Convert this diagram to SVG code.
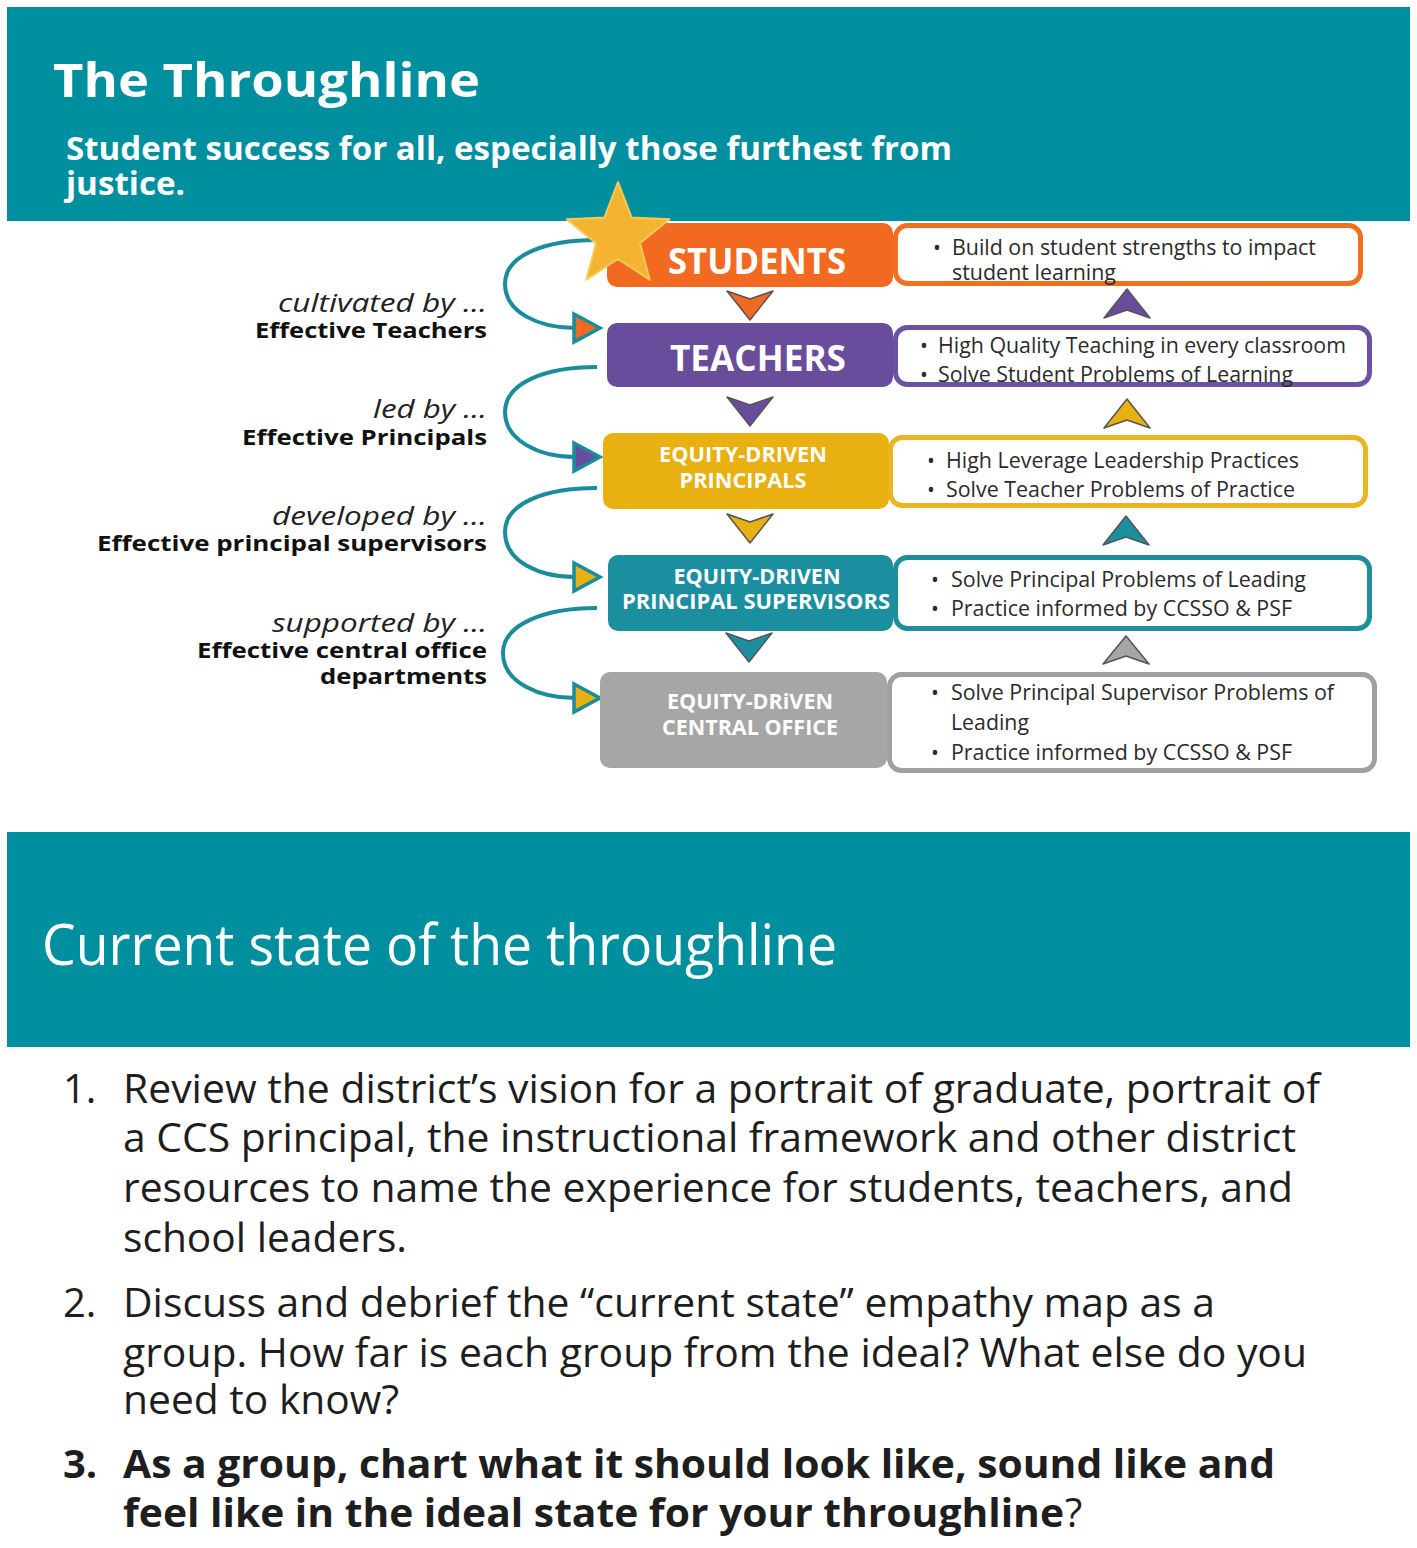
<svg xmlns="http://www.w3.org/2000/svg" width="1417" height="1548" viewBox="0 0 1417 1548">
<style>
text{font-family:"Open Sans","DejaVu Sans",sans-serif}
.hdr{fill:#fff;font-weight:700}
.node{fill:#fff;font-weight:700;text-anchor:middle}
.box{fill:#fff;stroke-width:5}
.bt{fill:#2b2b2b;font-size:21px}
.it{fill:#222;font-size:25px;font-style:italic}
.bd{fill:#111;font-size:22px;font-weight:700}
.li{fill:#1e1e1e;font-size:40px}
.curve{fill:none;stroke:#1a8c9c;stroke-width:4}
.ah{stroke:#1a8c9c;stroke-width:3.5;stroke-linejoin:miter}
.chev{stroke:#555;stroke-width:1.5;stroke-linejoin:round}
</style>
<rect width="1417" height="1548" fill="#fff"/>

<g id="header1">
<rect x="7" y="7" width="1403" height="214" fill="#008f9f"/>
<text class="hdr" x="53" y="97" font-size="47" textLength="427" lengthAdjust="spacingAndGlyphs">The Throughline</text>
<text class="hdr" x="66" y="160" font-size="32" textLength="886" lengthAdjust="spacingAndGlyphs">Student success for all, especially those furthest from</text>
<text class="hdr" x="66" y="195" font-size="32" textLength="119" lengthAdjust="spacingAndGlyphs">justice.</text>
</g>

<g id="connectors">
<path class="curve" d="M597 240 C545 240 505 255 505 284 C505 313 540 328 575 328"/>
<polygon class="ah" points="574,314 600,328 574,342" fill="#f26a21"/>
<path class="curve" d="M597 367 C545 367 505 383 505 412 C505 441 540 457 575 457"/>
<polygon class="ah" points="574,443 600,457 574,471" fill="#6a4c9c"/>
<path class="curve" d="M597 488 C545 488 505 503 505 532 C505 562 540 577 575 577"/>
<polygon class="ah" points="574,563 600,577 574,591" fill="#e8b011"/>
<path class="curve" d="M597 608 C545 608 503 624 503 653 C503 683 540 698 575 698"/>
<polygon class="ah" points="574,684 600,698 574,712" fill="#e8b011"/>

<polygon class="chev" points="727,291 750,299 773,291 750,320" fill="#f26a21"/>
<polygon class="chev" points="727,397 750,405 773,397 750,426" fill="#6a4c9c"/>
<polygon class="chev" points="727,514 750,522 773,514 750,543" fill="#e8b011"/>
<polygon class="chev" points="726,633 749,641 772,633 749,662" fill="#1b8ea0"/>

<polygon class="chev" points="1104,318 1127,310 1150,318 1127,289" fill="#6a4c9c"/>
<polygon class="chev" points="1104,428 1127,420 1150,428 1127,399" fill="#e8b011"/>
<polygon class="chev" points="1103,545 1126,537 1149,545 1126,516" fill="#1b8ea0"/>
<polygon class="chev" points="1103,664 1126,656 1149,664 1126,636" fill="#a6a6a6"/>
</g>

<g id="labels">
<text class="it" x="278" y="312" textLength="209" lengthAdjust="spacingAndGlyphs">cultivated by …</text>
<text class="bd" x="255" y="338" textLength="232" lengthAdjust="spacingAndGlyphs">Effective Teachers</text>
<text class="it" x="373" y="418" textLength="114" lengthAdjust="spacingAndGlyphs">led by …</text>
<text class="bd" x="242" y="445" textLength="245" lengthAdjust="spacingAndGlyphs">Effective Principals</text>
<text class="it" x="272" y="525" textLength="215" lengthAdjust="spacingAndGlyphs">developed by …</text>
<text class="bd" x="97" y="551" textLength="390" lengthAdjust="spacingAndGlyphs">Effective principal supervisors</text>
<text class="it" x="272" y="632" textLength="215" lengthAdjust="spacingAndGlyphs">supported by …</text>
<text class="bd" x="197" y="658" textLength="290" lengthAdjust="spacingAndGlyphs">Effective central office</text>
<text class="bd" x="320" y="684" textLength="167" lengthAdjust="spacingAndGlyphs">departments</text>
</g>

<g id="students">
<rect x="607" y="223" width="286" height="64" rx="10" fill="#f26a21"/>
<text class="node" x="757" y="274" font-size="35" textLength="178" lengthAdjust="spacingAndGlyphs">STUDENTS</text>
<rect class="box" x="895.5" y="225.5" width="465" height="58" rx="12" stroke="#f07020"/>
<text class="bt" x="933" y="255">•</text>
<text class="bt" x="952" y="255" textLength="364" lengthAdjust="spacingAndGlyphs">Build on student strengths to impact</text>
<text class="bt" x="952" y="280" textLength="164" lengthAdjust="spacingAndGlyphs">student learning</text>
</g>

<g id="star">
<polygon points="618,182 631.5,217.4 669.4,219.3 639.9,243.1 649.7,279.7 618,259 586.3,279.7 596.1,243.1 566.6,219.3 604.5,217.4" fill="#f4b431" stroke="#f8ca55" stroke-width="2" stroke-linejoin="round"/>
</g>

<g id="teachers">
<rect x="607" y="323" width="286" height="64" rx="10" fill="#6a4c9c"/>
<text class="node" x="758" y="371" font-size="35" textLength="176" lengthAdjust="spacingAndGlyphs">TEACHERS</text>
<rect class="box" x="895.5" y="327.5" width="474" height="57" rx="12" stroke="#6d52a3"/>
<text class="bt" x="920" y="353">•</text>
<text class="bt" x="938" y="353" textLength="408" lengthAdjust="spacingAndGlyphs">High Quality Teaching in every classroom</text>
<text class="bt" x="920" y="382">•</text>
<text class="bt" x="938" y="382" textLength="355" lengthAdjust="spacingAndGlyphs">Solve Student Problems of Learning</text>
</g>

<g id="principals">
<rect x="603" y="433" width="286" height="76" rx="10" fill="#e8b011"/>
<text class="node" x="743" y="462" font-size="21" textLength="168" lengthAdjust="spacingAndGlyphs">EQUITY-DRIVEN</text>
<text class="node" x="743" y="488" font-size="21" textLength="127" lengthAdjust="spacingAndGlyphs">PRINCIPALS</text>
<rect class="box" x="890.5" y="437.5" width="475" height="68" rx="12" stroke="#ebb420"/>
<text class="bt" x="927" y="468">•</text>
<text class="bt" x="946" y="468" textLength="353" lengthAdjust="spacingAndGlyphs">High Leverage Leadership Practices</text>
<text class="bt" x="927" y="497">•</text>
<text class="bt" x="946" y="497" textLength="349" lengthAdjust="spacingAndGlyphs">Solve Teacher Problems of Practice</text>
</g>

<g id="supervisors">
<rect x="608" y="555" width="285" height="76" rx="10" fill="#1b8ea0"/>
<text class="node" x="757" y="584" font-size="21" textLength="167" lengthAdjust="spacingAndGlyphs">EQUITY-DRIVEN</text>
<text class="node" x="756" y="609" font-size="21" textLength="268" lengthAdjust="spacingAndGlyphs">PRINCIPAL SUPERVISORS</text>
<rect class="box" x="895.5" y="557.5" width="474" height="71" rx="12" stroke="#1c8e9e"/>
<text class="bt" x="931" y="587">•</text>
<text class="bt" x="951" y="587" textLength="355" lengthAdjust="spacingAndGlyphs">Solve Principal Problems of Leading</text>
<text class="bt" x="931" y="616">•</text>
<text class="bt" x="951" y="616" textLength="341" lengthAdjust="spacingAndGlyphs">Practice informed by CCSSO &amp; PSF</text>
</g>

<g id="central-office">
<rect x="600" y="672" width="287" height="96" rx="10" fill="#a6a6a6"/>
<text class="node" x="750" y="709" font-size="21" textLength="166" lengthAdjust="spacingAndGlyphs">EQUITY-DRiVEN</text>
<text class="node" x="750" y="735" font-size="21" textLength="176" lengthAdjust="spacingAndGlyphs">CENTRAL OFFICE</text>
<rect class="box" x="889.5" y="674.5" width="485" height="96" rx="12" stroke="#a0a0a0"/>
<text class="bt" x="931" y="700">•</text>
<text class="bt" x="951" y="700" textLength="383" lengthAdjust="spacingAndGlyphs">Solve Principal Supervisor Problems of</text>
<text class="bt" x="951" y="730" textLength="78" lengthAdjust="spacingAndGlyphs">Leading</text>
<text class="bt" x="931" y="760">•</text>
<text class="bt" x="951" y="760" textLength="341" lengthAdjust="spacingAndGlyphs">Practice informed by CCSSO &amp; PSF</text>
</g>

<g id="header2">
<rect x="7" y="832" width="1403" height="215" fill="#008f9f"/>
<text x="42" y="965" font-size="56" fill="#fff" textLength="795" lengthAdjust="spacingAndGlyphs">Current state of the throughline</text>
</g>

<g id="list">
<text class="li" x="63" y="1103">1.</text>
<text class="li" x="123" y="1103" textLength="1197" lengthAdjust="spacingAndGlyphs">Review the district’s vision for a portrait of graduate, portrait of</text>
<text class="li" x="123" y="1152" textLength="1173" lengthAdjust="spacingAndGlyphs">a CCS principal, the instructional framework and other district</text>
<text class="li" x="123" y="1202" textLength="1170" lengthAdjust="spacingAndGlyphs">resources to name the experience for students, teachers, and</text>
<text class="li" x="123" y="1252" textLength="284" lengthAdjust="spacingAndGlyphs">school leaders.</text>
<text class="li" x="63" y="1317">2.</text>
<text class="li" x="123" y="1317" textLength="1092" lengthAdjust="spacingAndGlyphs">Discuss and debrief the “current state” empathy map as a</text>
<text class="li" x="123" y="1367" textLength="1184" lengthAdjust="spacingAndGlyphs">group. How far is each group from the ideal? What else do you</text>
<text class="li" x="123" y="1414" textLength="276" lengthAdjust="spacingAndGlyphs">need to know?</text>
<text class="li" x="63" y="1478" font-weight="700">3.</text>
<text class="li" x="123" y="1478" font-weight="700" textLength="1152" lengthAdjust="spacingAndGlyphs">As a group, chart what it should look like, sound like and</text>
<text class="li" x="123" y="1527" font-weight="700" textLength="941" lengthAdjust="spacingAndGlyphs">feel like in the ideal state for your throughline</text>
<text class="li" x="1065" y="1527">?</text>
</g>
</svg>
